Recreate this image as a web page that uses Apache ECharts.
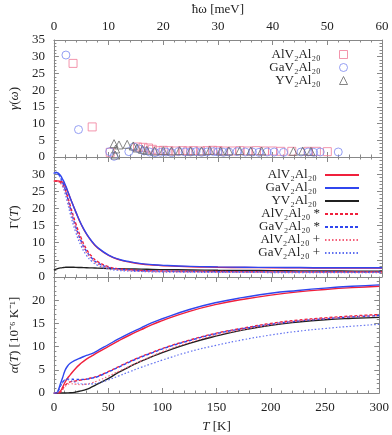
<!DOCTYPE html>
<html>
    <head>
        <meta charset="utf-8" />
        <script src="https://cdn.jsdelivr.net/npm/echarts@6/dist/echarts.min.js"></script>
    </head>
    <body style="margin: 0">
        <div id="main" style="width: 392px; height: 435px"></div>
        <script type="text/javascript">
            // top panel: linewidths vs phonon energy
            var gammaAlV = [[3.5,28],[7,9],[10.3,1.4],[15.3,3.0],[16.3,2.9],[17.3,2.7],[18,2.3],[19,1.9],[20,2.0],[21,1.9],[22.2,1.8],[23.5,1.9],[24.5,1.8],[25.5,1.9],[26.8,1.8],[28,1.9],[29,2.0],[30,1.9],[31,1.8],[32.5,1.8],[34,1.9],[35.5,1.8],[37,1.9],[38.5,1.8],[40,1.8],[41.5,1.7],[43.5,1.7],[46.5,1.7],[48,1.7],[50,1.6]];
            var gammaGaV = [[2.2,30.5],[4.5,8.2],[10.2,1.6],[11,0.2],[13.7,1.6],[14.6,3.0],[15.6,2.4],[16.5,1.8],[17.5,1.5],[18.5,1.3],[19.5,1.4],[20.5,1.5],[21.5,1.3],[22.8,1.6],[24,1.5],[25,1.5],[26,1.6],[27,1.4],[28,1.5],[29.2,1.6],[30,1.5],[31,1.4],[32,1.5],[33.5,1.6],[35,1.5],[36.3,1.5],[37.5,1.4],[39,1.5],[40.3,1.5],[42,1.4],[45.2,1.5],[46.5,1.5],[47.5,1.4],[48.7,1.5],[52,1.5]];
            var gammaYV = [[11,4.0],[11.9,3.6],[13.4,3.8],[11.3,2.4],[11.2,0.6],[14.5,3.3],[15.2,2.7],[16.2,2.3],[17,2.0],[18.4,1.8],[20,1.9],[21.5,1.8],[23,1.9],[25,1.8],[27,1.8],[28.5,2.0],[30.5,1.8],[32,1.8],[34,1.9],[36,1.8],[38,1.8],[43.8,1.7],[45.5,1.8],[47,1.7]];

            // temperature grid shared by the two lower panels
            var temps = [0,2,4,6,8,10,12,15,20,25,30,35,40,50,60,70,80,90,100,125,150,175,200,225,250,275,300];

            // Gruneisen parameter Gamma(T)
            var grunAl = [28.0,28.0,28.0,27.9,27.6,26.8,25.4,23.0,19.0,15.3,12.4,10.2,8.5,6.3,5.0,4.3,3.8,3.5,3.3,3.0,2.85,2.75,2.7,2.65,2.6,2.6,2.6];
            var grunGa = [30.2,30.5,30.3,29.6,28.5,27.2,25.6,23.0,19.0,15.4,12.5,10.3,8.6,6.4,5.1,4.4,3.9,3.6,3.4,3.1,2.95,2.85,2.8,2.75,2.7,2.7,2.7];
            var grunY = [2.0,2.3,2.5,2.65,2.75,2.8,2.85,2.85,2.8,2.75,2.7,2.65,2.6,2.5,2.4,2.35,2.3,2.2,2.15,2.05,1.95,1.9,1.85,1.8,1.75,1.72,1.7];
            var grunAlStar = [28.0,28.0,27.9,27.6,27.0,25.8,24.0,20.8,15.6,11.3,8.0,5.9,4.5,3.0,2.4,2.1,1.9,1.8,1.75,1.65,1.6,1.55,1.5,1.5,1.45,1.45,1.45];
            var grunGaStar = [30.2,30.5,30.0,29.0,27.6,25.8,23.6,20.0,14.6,10.4,7.4,5.4,4.1,2.8,2.3,2.0,1.85,1.75,1.7,1.6,1.55,1.5,1.5,1.45,1.45,1.4,1.4];
            var grunAlPlus = [28.0,28.0,27.8,27.3,26.4,25.0,23.0,19.6,14.2,10.0,7.0,5.1,3.8,2.6,2.1,1.85,1.7,1.6,1.55,1.5,1.45,1.4,1.4,1.35,1.35,1.35,1.3];
            var grunGaPlus = [30.2,30.4,29.8,28.6,26.8,24.6,22.2,18.4,13.0,9.0,6.2,4.5,3.4,2.3,1.9,1.7,1.6,1.5,1.45,1.4,1.35,1.35,1.3,1.3,1.3,1.3,1.3];

            // thermal expansion alpha(T), 1e-6 / K
            var alphaAl = [0,0,0.05,0.4,1.2,2.2,3.0,3.9,5.3,6.4,7.3,8.0,8.7,10.0,11.3,12.5,13.6,14.7,15.6,17.6,19.1,20.2,21.1,21.8,22.3,22.7,23.0];
            var alphaGa = [0,0,0.6,2.0,3.3,4.7,5.6,6.4,7.1,7.6,8.1,8.5,9.1,10.4,11.7,12.9,14.0,15.1,16.0,18.0,19.5,20.6,21.5,22.1,22.6,23.0,23.3];
            var alphaY = [0,0,0,0,0,0,0.02,0.05,0.2,0.45,0.8,1.3,1.9,3.1,4.5,5.7,6.8,7.8,8.7,10.7,12.3,13.6,14.6,15.3,15.8,16.1,16.3];
            var alphaAlStar = [0,0,0,0.2,0.8,1.5,2.0,2.4,2.6,2.8,3.0,3.3,3.6,4.6,5.7,6.8,7.8,8.7,9.6,11.4,12.9,14.0,15.0,15.7,16.2,16.6,16.9];
            var alphaGaStar = [0,0,0.4,1.5,2.3,2.8,3.0,3.0,2.9,2.9,3.0,3.2,3.5,4.5,5.6,6.7,7.7,8.6,9.5,11.3,12.8,13.9,14.8,15.5,16.0,16.4,16.7];
            var alphaAlPlus = [0,0,0,0.2,0.7,1.3,1.7,2.0,1.9,1.8,1.9,2.2,2.6,3.6,4.7,5.8,6.9,7.9,8.9,10.9,12.5,13.7,14.7,15.5,16.0,16.4,16.7];
            var alphaGaPlus = [0,0,0.4,1.5,2.3,2.8,2.9,2.7,2.3,2.0,1.9,1.95,2.1,2.8,3.7,4.6,5.5,6.3,7.1,8.9,10.3,11.5,12.5,13.3,13.9,14.4,14.8];

            var nameAl = "AlV₂Al₂₀", nameGa = "GaV₂Al₂₀", nameY = "YV₂Al₂₀";
            var font = "Liberation Serif";
            var red = "#f0203c", blue = "#3046ee", black = "#202020";
            var rich = { i: { fontStyle: "italic", fontFamily: font, fontSize: 13, color: "#222" } };

            function zip(xs, ys) {
                return xs.map(function (x, i) { return [x, ys[i]]; });
            }

            function axis(opts) {
                var a = {
                    type: "value",
                    axisLine: { show: true, onZero: false, lineStyle: { color: "#888" } },
                    axisTick: { show: true, inside: true, length: 5, lineStyle: { color: "#888" } },
                    minorTick: { show: true, splitNumber: 5, length: 2.5, lineStyle: { color: "#888" } },
                    splitLine: { show: false },
                    axisLabel: { show: false, color: "#222", fontFamily: font, fontSize: 13 },
                    nameTextStyle: { color: "#222", fontFamily: font, fontSize: 13, rich: rich },
                };
                for (var k in opts) {
                    if (k === "axisLabel") Object.assign(a.axisLabel, opts[k]);
                    else a[k] = opts[k];
                }
                return a;
            }

            // xi: index of the panel's main x/y axis (2 for middle, 4 for bottom)
            function line(name, data, xi, color, type, width) {
                return {
                    name: name,
                    type: "line",
                    xAxisIndex: xi,
                    yAxisIndex: xi,
                    data: data,
                    symbol: "none",
                    smooth: 0.5,
                    lineStyle: { color: color, width: width || 1.4, type: type || "solid" },
                    itemStyle: { color: color },
                };
            }

            function scatter(name, data, symbol, color) {
                return {
                    name: name,
                    type: "scatter",
                    xAxisIndex: 0,
                    yAxisIndex: 0,
                    data: data,
                    symbol: symbol,
                    symbolSize: 8,
                    itemStyle: { color: "transparent", borderColor: color, borderWidth: 1 },
                };
            }

            function legendText(w, pad) {
                return {
                    formatter: function (n) { return "{r|" + n + "}"; },
                    textStyle: {
                        rich: { r: { width: w, align: "right", fontFamily: font, fontSize: 13, color: "#222", lineHeight: 13, padding: [0, pad, 0, 0] } },
                    },
                };
            }

            var myChart = echarts.init(document.getElementById("main"));
            myChart.setOption({
                animation: false,
                grid: [
                    { left: 47, right: 10, top: 40, height: 117 },
                    { left: 47, right: 10, top: 157, height: 120 },
                    { left: 47, right: 10, top: 277, height: 116 },
                ],
                legend: [
                    Object.assign({
                        data: [nameAl, nameGa, nameY],
                        orient: "vertical",
                        right: 39,
                        top: 43,
                        align: "right",
                        itemWidth: 8,
                        itemHeight: 8,
                        itemGap: 0,
                        itemStyle: { borderWidth: 1 },
                    }, legendText(100, 14)),
                    Object.assign({
                        data: [nameAl + " ", nameGa + " ", nameY + " ", nameAl + " *", nameGa + " *", nameAl + " +", nameGa + " +"],
                        orient: "vertical",
                        right: 27,
                        top: 163.5,
                        align: "right",
                        itemWidth: 34,
                        itemHeight: 8,
                        itemGap: 0,
                        itemStyle: { opacity: 0 },
                    }, legendText(100, 0)),
                ],
                xAxis: [
                    axis({ gridIndex: 0, position: "top", min: 0, max: 60, interval: 10, name: "ħω [meV]", nameLocation: "middle", nameGap: 24, axisLabel: { show: true, margin: 7 } }),
                    axis({ gridIndex: 0, position: "bottom", min: 0, max: 60, interval: 10 }),
                    axis({ gridIndex: 1, position: "bottom", min: 0, max: 300, interval: 50 }),
                    axis({ gridIndex: 1, position: "top", min: 0, max: 300, interval: 50 }),
                    axis({ gridIndex: 2, position: "bottom", min: 0, max: 300, interval: 50, name: "{i|T} [K]", nameLocation: "middle", nameGap: 27, axisLabel: { show: true, margin: 8 } }),
                    axis({ gridIndex: 2, position: "top", min: 0, max: 300, interval: 50 }),
                ],
                yAxis: [
                    axis({ gridIndex: 0, position: "left", min: 0, max: 35, interval: 5, name: "{i|γ}({i|ω})", nameLocation: "middle", nameGap: 29, axisLabel: { show: true, margin: 9 } }),
                    axis({ gridIndex: 0, position: "right", min: 0, max: 35, interval: 5 }),
                    axis({ gridIndex: 1, position: "left", min: 0, max: 35, interval: 5, name: "Γ({i|T})", nameLocation: "middle", nameGap: 29, axisLabel: { show: true, margin: 9, formatter: function (v) { return v === 35 ? "" : v; } } }),
                    axis({ gridIndex: 1, position: "right", min: 0, max: 35, interval: 5 }),
                    axis({ gridIndex: 2, position: "left", min: 0, max: 25, interval: 5, name: "{i|α}({i|T}) [10⁻⁶ K⁻¹]", nameLocation: "middle", nameGap: 29, axisLabel: { show: true, margin: 9, formatter: function (v) { return v === 25 ? "" : v; } } }),
                    axis({ gridIndex: 2, position: "right", min: 0, max: 25, interval: 5 }),
                ],
                series: [
                    scatter(nameAl, gammaAlV, "rect", "#f07c98"),
                    scatter(nameGa, gammaGaV, "circle", "#7c88f0"),
                    scatter(nameY, gammaYV, "triangle", "#666"),

                    line(nameAl + " ", zip(temps, grunAl), 2, red),
                    line(nameGa + " ", zip(temps, grunGa), 2, blue),
                    line(nameY + " ", zip(temps, grunY), 2, black),
                    line(nameAl + " *", zip(temps, grunAlStar), 2, red, [3, 2]),
                    line(nameGa + " *", zip(temps, grunGaStar), 2, blue, [3, 2]),
                    line(nameAl + " +", zip(temps, grunAlPlus), 2, "#f4607a", [1.5, 2], 1.2),
                    line(nameGa + " +", zip(temps, grunGaPlus), 2, "#6070f0", [1.5, 2], 1.2),

                    line(nameAl + " ", zip(temps, alphaAl), 4, red),
                    line(nameGa + " ", zip(temps, alphaGa), 4, blue),
                    line(nameY + " ", zip(temps, alphaY), 4, black),
                    line(nameAl + " *", zip(temps, alphaAlStar), 4, red, [3, 2]),
                    line(nameGa + " *", zip(temps, alphaGaStar), 4, blue, [3, 2]),
                    line(nameAl + " +", zip(temps, alphaAlPlus), 4, "#f4607a", [1.5, 2], 1.2),
                    line(nameGa + " +", zip(temps, alphaGaPlus), 4, "#6070f0", [1.5, 2], 1.2),
                ],
            });
        </script>
    </body>
</html>
